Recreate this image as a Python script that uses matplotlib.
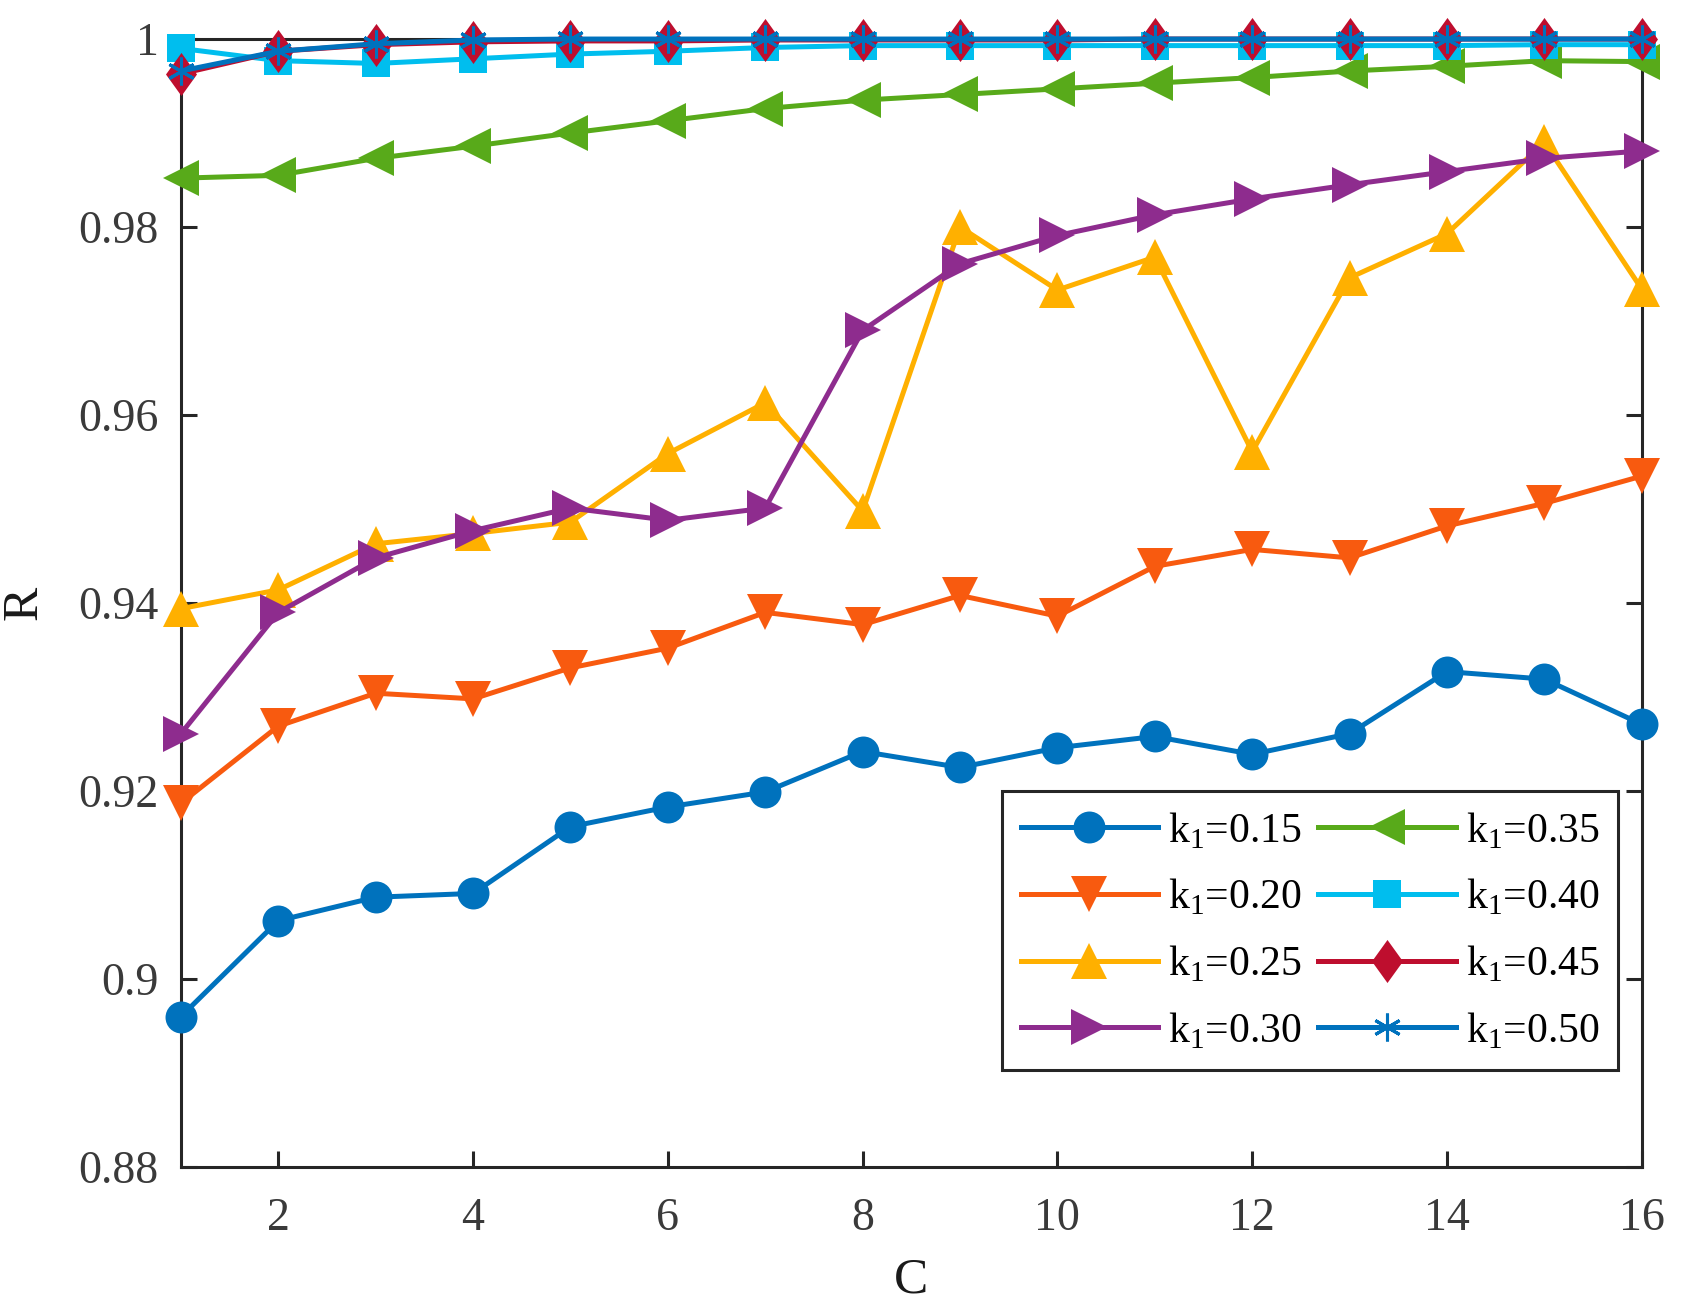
import matplotlib
matplotlib.use("Agg")
import matplotlib.pyplot as plt
from matplotlib.ticker import FormatStrFormatter
import numpy as np

plt.rcParams['font.family'] = ['Liberation Serif', 'DejaVu Serif']
plt.rcParams['mathtext.fontset'] = 'custom'
plt.rcParams['mathtext.rm'] = 'Liberation Serif'

# data
C = list(range(1, 17))
r_015 = [0.8960, 0.9062, 0.9087, 0.9091, 0.9162, 0.9183, 0.9199, 0.9242,
         0.9225, 0.9246, 0.9258, 0.9239, 0.9261, 0.9327, 0.9319, 0.9271]
r_020 = [0.9187, 0.9269, 0.9304, 0.9298, 0.9331, 0.9352, 0.9390, 0.9377,
         0.9408, 0.9386, 0.9439, 0.9457, 0.9448, 0.9482, 0.9506, 0.9535]
r_025 = [0.9394, 0.9414, 0.9463, 0.9474, 0.9486, 0.9559, 0.9613, 0.9498,
         0.9800, 0.9733, 0.9768, 0.9561, 0.9746, 0.9793, 0.9890, 0.9734]
r_030 = [0.9261, 0.9390, 0.9448, 0.9477, 0.9501, 0.9488, 0.9501, 0.9690,
         0.9761, 0.9791, 0.9813, 0.9830, 0.9845, 0.9859, 0.9873, 0.9881]
r_035 = [0.9852, 0.9855, 0.9873, 0.9886, 0.9900, 0.9913, 0.9926, 0.9935,
         0.9941, 0.9947, 0.9953, 0.9959, 0.9966, 0.9971, 0.9977, 0.9976]
r_040 = [0.9990, 0.9977, 0.9974, 0.9979, 0.9984, 0.9987, 0.9991, 0.9993,
         0.9993, 0.9993, 0.9993, 0.9993, 0.9993, 0.9993, 0.9994, 0.9994]
r_045 = [0.9963, 0.9987, 0.9994, 0.9997, 0.9998, 0.9998, 0.9999, 0.9999,
         0.9999, 0.9999, 1.0000, 1.0000, 1.0000, 1.0000, 1.0000, 1.0000]
r_050 = [0.9966, 0.9987, 0.9995, 0.9999, 1.0000, 1.0000, 1.0000, 1.0000,
         1.0000, 1.0000, 1.0000, 1.0000, 1.0000, 1.0000, 1.0000, 1.0000]

series = [r_015, r_020, r_025, r_030, r_035, r_040, r_045, r_050]
labels = ['0.15', '0.20', '0.25', '0.30', '0.35', '0.40', '0.45', '0.50']
colors = ['#0072BD', '#F85A0F', '#FFB000', '#8E2C8E',
          '#58AA1A', '#00BEEE', '#BE0E2E', '#0072BD']

diamond = [(0, 1), (0.72, 0), (0, -1), (-0.72, 0), (0, 1)]
markers = ['o', 'v', '^', '>', '<', 's', diamond, (6, 2, 0)]
msizes = [23, 26, 26, 26, 26, 19.5, 31, 20]

fig = plt.figure(figsize=(16.83, 13.10), dpi=100)
ax = fig.add_axes([0.1075, 0.1092, 0.868, 0.861])

for y, lab, c, m, ms in zip(series, labels, colors, markers, msizes):
    ax.plot(C, y, color=c, marker=m, markersize=ms, linewidth=3.6,
            markeredgewidth=2.2 if m == (6, 2, 0) else 0,
            markerfacecolor=c, markeredgecolor=c,
            label='k$_\\mathregular{1}$=' + lab, clip_on=False, zorder=3)

ax.set_xlim(1, 16)
ax.set_ylim(0.88, 1.0)
ax.set_xticks(range(2, 17, 2))
ax.set_yticks(np.arange(0.88, 1.001, 0.02))
ax.yaxis.set_major_formatter(FormatStrFormatter('%g'))

ax.tick_params(direction='in', length=11.3, width=2.2, labelsize=33,
               colors='#262626', labelcolor='#3a3a3a', pad=16,
               top=True, right=True)
ax.tick_params(axis='x', pad=22)
for s in ax.spines.values():
    s.set_linewidth(2.2)
    s.set_color('#262626')

ax.set_xlabel('C', fontsize=37, color='#1a1a1a', labelpad=12)
ax.set_ylabel('R', fontsize=37, color='#1a1a1a', labelpad=22)

leg = ax.legend(ncol=2, loc='upper right', bbox_to_anchor=(0.984, 0.3333),
                borderaxespad=0, fontsize=30, handlelength=3.3,
                handletextpad=0.24, columnspacing=0.4, labelspacing=0.62,
                borderpad=0.45, fancybox=False, framealpha=1)
leg.get_frame().set_edgecolor('#262626')
leg.get_frame().set_linewidth(2.2)

fig.savefig('out.png', dpi=100)
